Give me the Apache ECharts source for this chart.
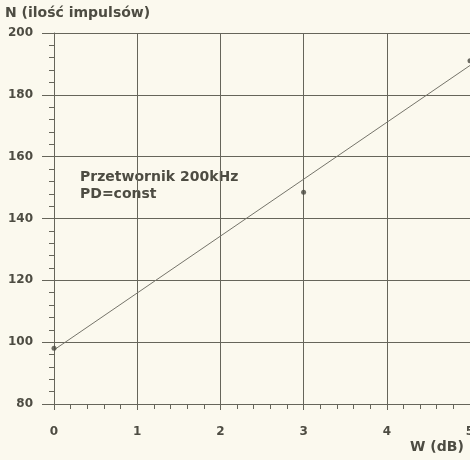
<!DOCTYPE html>
<html>
<head>
<meta charset="utf-8">
<script src="https://cdn.jsdelivr.net/npm/echarts@6/dist/echarts.min.js"></script>
<style>
  html, body { margin: 0; padding: 0; background: #fbf9ee; overflow: hidden; }
  #chart { width: 470px; height: 460px; }
</style>
</head>
<body>
<div id="chart"></div>
<script>
// Measured pulse counts N against attenuation W
const measX = [0, 3, 5];
const measN = [98, 148.5, 191];

// Fitted straight line, given by its two ends
const fitX = [0, 5];
const fitN = [97.5, 189.5];

const xTicks = [0, 1, 2, 3, 4, 5];
const yTicks = [80, 100, 120, 140, 160, 180, 200];

const ink = '#4d4c42';
const gridInk = '#66655a';
const face = '"DejaVu Sans", "Liberation Sans", Arial, sans-serif';

const chart = echarts.init(document.getElementById('chart'), null, { renderer: 'canvas' });

chart.setOption({
  backgroundColor: '#fbf9ee',
  animation: false,
  grid: {
    left: 54, right: 0, top: 33, bottom: 56,
    containLabel: false,
    outerBoundsMode: 'none'
  },
  xAxis: {
    type: 'value',
    min: xTicks[0],
    max: xTicks[xTicks.length - 1],
    interval: 1,
    axisLine: { show: true, lineStyle: { color: gridInk, width: 1 } },
    axisTick: { show: true, length: 6, lineStyle: { color: gridInk, width: 1 } },
    minorTick: { show: true, splitNumber: 5, length: 5, lineStyle: { color: gridInk, width: 1 } },
    splitLine: { show: true, lineStyle: { color: gridInk, width: 1 } },
    axisLabel: {
      margin: 22,
      color: ink,
      fontFamily: face,
      fontWeight: 'bold',
      fontSize: 12,
      hideOverlap: false
    }
  },
  yAxis: {
    type: 'value',
    min: yTicks[0],
    max: yTicks[yTicks.length - 1],
    interval: 20,
    axisLine: { show: true, lineStyle: { color: gridInk, width: 1 } },
    axisTick: { show: true, length: 12, lineStyle: { color: gridInk, width: 1 } },
    minorTick: { show: true, splitNumber: 5, length: 5, lineStyle: { color: gridInk, width: 1 } },
    splitLine: { show: true, lineStyle: { color: gridInk, width: 1 } },
    axisLabel: {
      margin: 21,
      color: ink,
      fontFamily: face,
      fontWeight: 'bold',
      fontSize: 12
    }
  },
  series: [
    {
      type: 'line',
      data: fitX.map((x, i) => [x, fitN[i]]),
      showSymbol: false,
      lineStyle: { color: '#75746a', width: 1 },
      silent: true,
      z: 3
    },
    {
      type: 'scatter',
      data: measX.map((x, i) => [x, measN[i]]),
      symbolSize: 5,
      itemStyle: { color: '#4a4940' },
      clip: false,
      z: 4
    }
  ],
  graphic: [
    {
      type: 'text',
      left: 5,
      top: 6,
      style: {
        text: 'N (ilość impulsów)',
        fill: ink,
        font: 'bold 14px ' + face
      }
    },
    {
      type: 'text',
      left: 80,
      top: 169,
      style: {
        text: 'Przetwornik 200kHz\nPD=const',
        fill: ink,
        lineHeight: 17,
        font: 'bold 14px ' + face
      }
    },
    {
      type: 'text',
      left: 410,
      top: 440,
      style: {
        text: 'W (dB)',
        fill: ink,
        font: 'bold 14px ' + face
      }
    }
  ]
});
</script>
</body>
</html>
